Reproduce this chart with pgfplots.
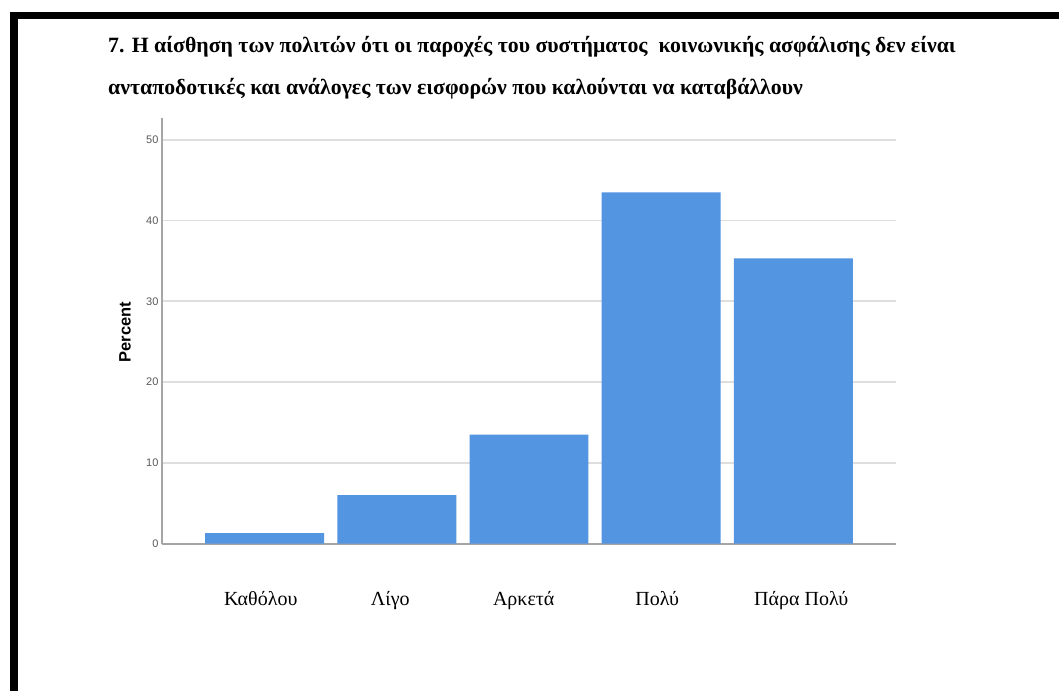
\documentclass[border=0pt]{standalone}
\usepackage{fontspec}
\setmainfont{Liberation Serif}
\newfontfamily\arialfont{Liberation Sans}
\usepackage{pgfplots}
\pgfplotsset{compat=1.18}
\definecolor{barblue}{RGB}{84,149,226}
\definecolor{gridgray}{RGB}{222,222,222}
\definecolor{axgray}{RGB}{165,165,165}
\definecolor{ticktext}{RGB}{90,90,90}
\begin{document}
\begin{tikzpicture}[x=1pt,y=1pt]
\path[use as bounding box, fill=white] (0,0) rectangle (1059,691);
\fill[black] (10,679) rectangle (1059,671.5);
\fill[black] (10,0) rectangle (17.5,679);
\node[anchor=base west, inner sep=0pt, font=\bfseries\fontsize{21.8}{25}\selectfont] at (108,638)
  {7. Η αίσθηση των πολιτών ότι οι παροχές του συστήματος\ \ κοινωνικής ασφάλισης δεν είναι};
\node[anchor=base west, inner sep=0pt, font=\bfseries\fontsize{21.8}{25}\selectfont] at (108,596)
  {ανταποδοτικές και ανάλογες των εισφορών που καλούνται να καταβάλλουν};
\begin{axis}[
  at={(162pt,147.5pt)}, anchor=south west, scale only axis,
  width=734pt, height=425.5pt,
  xmin=-0.777, xmax=4.777, ymin=0, ymax=52.7,
  axis x line*=bottom, axis y line*=left,
  axis line style={axgray, line width=2pt, -},
  ytick={0,10,20,30,40,50},
  ymajorgrids, grid style={gridgray, line width=1.6pt},
  major tick length=0pt,
  /pgf/number format/assume math mode=true,
  yticklabel style={font=\arialfont\fontsize{11}{12}\selectfont, text=ticktext},
  xtick={-0.03,0.95,1.96,2.97,4.06},
  xticklabels={Καθόλου,Λίγο,Αρκετά,Πολύ,Πάρα Πολύ},
  xticklabel style={font=\fontsize{20}{24}\selectfont, anchor=base, yshift=-61.5pt, text=black},
  ylabel={Percent},
  ylabel style={font=\arialfont\bfseries\fontsize{16.5}{18}\selectfont, at={(axis description cs:-0.0504,0.497)}, anchor=center},
  ybar, bar width=0.9,
]
\addplot[fill=barblue, draw=none] coordinates {(0,1.3) (1,6.0) (2,13.5) (3,43.5) (4,35.3)};
\end{axis}
\end{tikzpicture}
\end{document}
